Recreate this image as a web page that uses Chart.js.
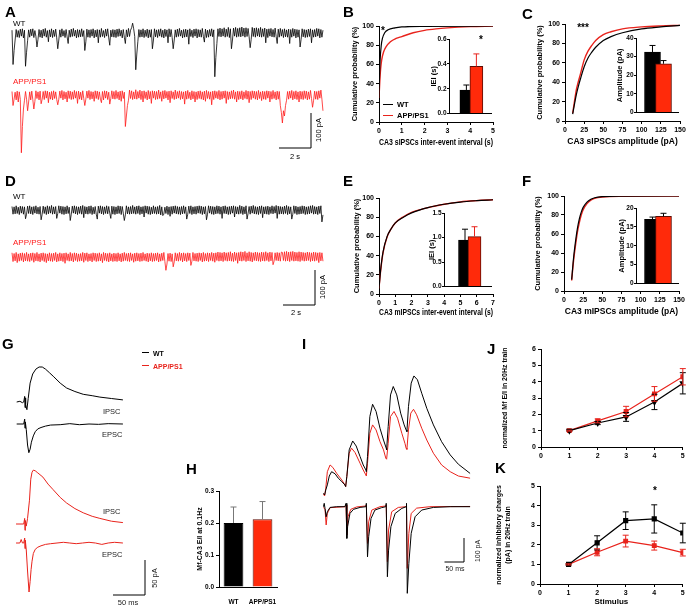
<!DOCTYPE html>
<html>
<head>
<meta charset="utf-8">
<script src="https://cdn.jsdelivr.net/npm/chart.js@4.4.1/dist/chart.umd.min.js"></script>
<style>
body { margin: 0; background: #fff; }
#fig { position: relative; width: 688px; height: 607px; overflow: hidden; background: #fff; font-family: 'Liberation Sans', Arial, sans-serif; }
#fig canvas { position: absolute; }
.t { position: absolute; white-space: nowrap; line-height: 1; }
.ln { position: absolute; height: 0; }
</style>
</head>
<body>
<div id="fig"></div>
<script>
// ---------- data ----------
const groups = ["WT", "APP/PS1"];

// A / D spontaneous and miniature recordings (pA from baseline, one sample every SAMPLE_DT s)
const SAMPLE_DT = 0.065;
const wtA = [
8, -90, -50, -20, 10, -12, 7, -13, 11, -9, 12, -14, 8, -95, -55, -22, 9, -12, 11, -8,
12, -13, 7, -10, -40, -18, 10, -12, 8, -14, 11, -9, 13, -12, 7, -25, 9, -11, 12, -13,
8, -10, 11, -14, -45, -20, 9, -12, 12, -9, 7, -13, 10, -11, -30, 8, -12, 11, -10, 13,
-9, 8, -14, 10, -12, 9, -11, 12, -10, 7, -50, -25, 11, -12, 9, -13, 10, -9, 12, -14,
8, -11, 10, -28, 9, -12, 13, -10, 7, -13, 11, -9, 12, -14, -35, 8, -11, 10, -12, 9,
-13, 11, -10, 12, -9, 8, -14, 10, -12, -30, 9, -11, 13, -10, 8, 15, 28, 12, -10, -105,
-60, -25, 10, -12, 9, -11, 12, -13, 8, -10, 11, -14, 9, -12, 10, -45, -20, 12, -11, 9,
-13, 10, -9, 12, -12, 8, -14, 11, -10, 9, -28, 12, -11, 10, -13, -45, -20, 9, -12, 11,
-10, 13, -9, 8, -14, 10, -12, 11, -11, 9, -32, 12, -10, 8, -13, 11, -9, 12, -14, 10,
-11, 9, -12, 13, -10, -26, 11, -13, 8, -12, 10, -9, 12, -11, 9, -125, -70, -30, 12, -10,
14, -11, 12, -9, 15, -12, 11, -10, 16, -13, 12, -45, -20, 14, -9, 16, -12, 13, -10, 15,
-11, 17, -9, 14, -12, 15, -10, 13, -11, -42, -18, 16, -10, 14, -12, 15, -9, 13, -11, 16,
-12, 12, -10, 14, -28, 11, -13, 12, -9, 13, -11, 10, -12, 14, -10, -30, 11, -12, 13, -9,
10, -13, 12, -11, 9, -12, 11, -30, 10, -12, 13, -9, 11, -14, 10, -12, 9, -40, -18, 12,
-11, 10, -13, 9, -12, 11, -10, 12, -28, 9, -12, 10, -11, 13, -9, 12, -14, 10, -12, 8];
const appA = [
10, -30, -12, 8, -14, 11, -20, 9, -13, -165, -90, -40, -15, 10, -12, -45, -20, 9, -14, 11,
-13, -40, -18, 12, -10, 9, -14, 11, -25, -12, 10, -13, 12, -9, 11, -22, 8, -12, 10, -14,
12, -10, 9, -13, -28, -12, 11, -9, 13, -14, 10, -11, 8, -20, 12, -10, 11, -13, 9, -12,
13, -9, 10, -24, 11, -12, 8, -14, 12, -10, -30, -12, 11, -9, 13, -13, 10, -11, 9, -18,
12, -10, 11, -13, 9, -12, -22, 10, -14, 12, -9, 11, -13, 8, -26, -10, 12, -11, 10, -12,
13, -10, 9, -14, 11, -18, 12, -10, 8, -90, -60, -30, -15, 14, -10, 12, -13, 9, -11, 15,
-12, 10, -9, 14, -13, 11, -20, 12, -10, 9, -14, 13, -11, 10, -24, 12, -9, 11, -13, 10,
-12, 14, -10, 9, -18, 12, -11, 13, -9, 10, -14, 11, -22, 12, -10, 9, -13, 14, -11, 10,
-9, 12, -13, 10, -11, 9, -26, 11, -12, 13, -10, 8, -14, 12, -11, 10, -20, 9, -13, 11,
-10, 12, -12, 9, -14, 11, -18, 13, -10, 10, -12, 9, -28, 11, -13, 12, -9, 10, -11, 13,
-14, 10, -12, 11, -9, 12, -24, 10, -13, 9, -11, 12, -10, 14, -12, 9, -20, 11, -13, 10,
-11, 12, -14, 9, -10, 13, -12, 11, -22, 10, -13, 12, -9, 11, -12, 10, -14, 13, -10, 9,
-16, 11, -12, 10, -13, 12, -9, 11, -20, 10, -12, 13, -10, 9, -14, 11, -12, 10, -30, -50,
-80, -45, -60, -30, -15, 10, -12, 11, -9, 13, -14, 10, -11, 12, -13, 9, -20, 11, -12, 10,
-13, 12, -10, 11, -14, 9, -12, 13, -10, -35, -15, 11, -12, 10, -13, 12, -9, 14, -12, -45];
const wtD = [
10, -12, 9, -11, 12, -10, 8, -13, 11, -9, 10, -12, 9, -25, -12, 11, -10, 12, -11, 9,
-13, 10, -9, 12, -11, 8, -12, 10, -28, -12, 11, -10, 9, -13, 12, -11, 10, -9, 13, -12,
9, -11, 10, -24, -10, 12, -9, 11, -12, 10, -13, 9, -11, 12, -10, 8, -30, -12, 11, -9,
12, -11, 10, -13, 9, -10, 11, -12, 13, -22, 10, -11, 9, -12, 11, -10, 12, -13, 8, -11,
10, -12, -26, 11, -9, 12, -11, 10, -13, 9, -10, 12, -11, 10, -9, -24, 11, -12, 10, -13,
9, -11, 12, -10, 11, -13, 10, -9, -30, -14, 12, -11, 9, -12, 10, -11, 13, -10, 9, -12,
11, -10, 12, -13, 9, -11, 10, -20, 12, -9, 11, -12, 10, -13, 8, -11, 12, -10, 9, -12,
10, -11, 13, -14, 9, -16, -12, 8, -10, 11, -13, 9, -18, 10, -12, 11, -9, 12, -11, 10,
-12, 9, -13, 10, -11, 12, -10, 9, -26, -12, 11, -10, 12, -13, 9, -11, 10, -12, 11, -9,
12, -10, 11, -13, 9, -11, 10, -28, -12, 12, -9, 11, -12, 10, -13, 9, -11, 12, -10, 11,
-12, 9, -24, 11, -10, 12, -11, 9, -13, 10, -12, 11, -9, 12, -20, 10, -11, 9, -12, 13,
-10, 11, -13, 9, -11, 12, -26, -10, 10, -12, 11, -9, 13, -11, 10, -12, 9, -13, 11, -10,
12, -22, 9, -11, 10, -12, 11, -13, 9, -10, 12, -11, 10, -9, 13, -24, 11, -12, 10, -11,
9, -12, 11, -10, 13, -13, 10, -11, 9, -26, -12, 12, -10, 11, -13, 9, -12, 10, -11, 12,
-10, 11, -13, 9, -12, 10, -11, 12, -9, 13, -12, 10, -11, 9, -13, 11, -10, 12, -34, -14];
const appD = [
12, -13, 10, -11, 13, -16, 9, -12, 11, -10, 12, -14, 10, -11, 13, -12, 9, -13, 11, -10,
12, -15, 10, -11, 13, -12, 9, -14, 11, -10, 12, -13, 10, -16, 9, -11, 12, -12, 10, -13,
11, -10, 13, -14, 9, -12, 12, -11, 10, -13, 11, -18, 12, -10, 9, -12, 13, -11, 10, -14,
12, -10, 11, -13, 9, -12, 10, -11, 13, -15, 11, -10, 12, -13, 9, -11, 10, -14, 12, -10,
11, -13, 10, -12, 12, -11, 9, -16, 13, -10, 11, -12, 10, -14, 12, -11, 9, -13, 11, -12,
10, -13, 12, -11, 9, -14, 11, -12, 13, -10, 10, -12, 11, -13, 12, -10, 9, -15, 11, -12,
12, -11, 10, -13, 11, -12, 13, -10, 9, -12, 11, -14, 10, -11, 12, -13, 10, -12, 11, -10,
12, -14, 9, -12, 11, -10, 13, -13, -38, -20, 10, -12, 11, -13, 9, -28, -14, 12, -11, 10,
-12, 13, -10, 11, -14, 12, -11, 10, -13, 12, -10, 11, -24, -12, 13, -11, 10, -12, 11, -13,
12, -10, 11, -14, 13, -12, 10, -11, 12, -13, 11, -10, 13, -12, 11, -15, 12, -10, 14, -12,
13, -11, 12, -13, 14, -10, 12, -12, 13, -11, 15, -12, 11, -13, 14, -10, 12, -18, 13, -11,
15, -12, 14, -10, 16, -13, 12, -11, 15, -12, 13, -14, 12, -10, 14, -11, 13, -12, 12, -13,
14, -11, 13, -12, 15, -10, 12, -13, 14, -11, 13, -22, -12, 12, -10, 13, -11, 12, -12, 14,
13, -10, 15, -12, 16, -11, 14, -13, 15, -10, 16, -12, 14, -11, 13, -12, 15, -13, 14, -10,
13, -12, 12, -11, 14, -10, 13, -13, 12, -11, 14, -12, 13, -10, 12, -16, 13, -11, 12, -12];
const scaleAD = [2, 100];   // s, pA

// B / C / E / F cumulative distributions
const bWtX = [0, 0.02, 0.05, 0.1, 0.15, 0.25, 0.4, 0.7, 1, 2, 5];
const bWtY = [25, 45, 65, 80, 87, 93, 96, 98, 99, 99.7, 100];
const bAppX = [0, 0.03, 0.07, 0.12, 0.2, 0.3, 0.5, 0.75, 1, 1.5, 2, 2.5, 3, 4, 5];
const bAppY = [25, 40, 55, 65, 73, 78, 83.5, 87, 89, 93, 95.5, 97, 98, 99.3, 100];
const cWtX = [10, 12.5, 15, 17.5, 20, 25, 30, 35, 40, 50, 60, 75, 100, 125, 150];
const cWtY = [7, 18, 28, 36, 43, 56, 65, 71, 76, 83, 87, 91, 95, 97, 98.6];
const cAppX = [10, 12.5, 15, 17.5, 20, 25, 30, 35, 40, 50, 60, 75, 100, 125, 150];
const cAppY = [8, 21, 33, 41, 48, 63, 72, 78, 83, 89, 92, 95, 97, 98, 98.6];
const eWtX = [0, 0.1, 0.25, 0.5, 0.75, 1, 1.5, 2, 3, 4, 5, 6, 7];
const eWtY = [6, 25, 44, 60, 68, 74, 80, 84.5, 90, 93.5, 95.8, 97.2, 98.2];
const eAppX = [0, 0.1, 0.25, 0.5, 0.75, 1, 1.5, 2, 3, 4, 5, 6, 7];
const eAppY = [6, 24, 43, 59.5, 68, 74, 80.5, 85, 90, 93.5, 96, 97.3, 98.2];
const fWtX = [10, 12.5, 15, 17.5, 20, 22.5, 25, 30, 35, 40, 50, 75, 150];
const fWtY = [12, 35, 52, 66, 76, 83, 88, 93.5, 96.5, 98.2, 99.4, 99.9, 100];
const fAppX = [10, 12.5, 15, 17.5, 20, 22.5, 25, 30, 35, 40, 50, 75, 150];
const fAppY = [11, 32, 48, 62, 72, 80, 85.5, 92, 95.5, 97.5, 99, 99.8, 100];

// inset means and SEM
const bIei = [0.19, 0.38], bIeiSem = [0.04, 0.10];
const cAmp = [32.5, 26.2], cAmpSem = [3.5, 1.7];
const eIei = [0.95, 1.02], eIeiSem = [0.22, 0.20];
const fAmp = [17.0, 17.8], fAmpSem = [0.6, 0.8];

// G evoked IPSC / EPSC (ms from stimulus, pA from baseline)
const gIpscWtT = [-13, -8, -4, -2, -0.5, 0, 0.5, 1.5, 3, 5, 8, 12, 17, 22, 27, 32, 38, 45, 55, 65, 78, 91, 105, 117, 135, 153];
const gIpscWtV = [0, 1, -1, 0, 8, -8, 6, -4, -11, 5, 27, 40, 47, 50, 50, 47, 42, 36, 27, 20, 15, 11, 9, 7, 5, 3];
const gEpscWtT = [-13, -2, -0.5, 0, 0.5, 2, 4, 6, 8, 10, 13, 16, 20, 25, 32, 40, 55, 70, 85, 100, 115, 130, 153];
const gEpscWtV = [0, 0, 7, -6, 3, -8, -30, -41, -36, -26, -17, -11, -7, -5, -3, -1.5, -1, 0.5, -1, 0, -0.5, 0.5, 0];
const gIpscAppT = [-14, -2, -0.5, 0, 0.5, 2, 4, 7, 9, 11, 13, 16, 20, 28, 36, 44, 55, 65, 78, 91, 105, 117, 135, 153];
const gIpscAppV = [0, 0, 8, -9, 5, -3, 8, 34, 64, 74, 77, 76, 73, 67, 57, 49, 38, 30, 22, 16, 11, 8, 4, 2];
const gEpscAppT = [-14, -8, -6, -4, -2, -0.5, 0, 0.5, 2, 4, 6.3, 8, 9.5, 11, 13, 16, 20, 25, 32, 40, 50, 60, 70, 80, 90, 100, 110, 120, 130, 140, 153];
const gEpscAppV = [0, 0, 5, 0, 0, 7, -8, 4, -10, -40, -70, -55, -38, -26, -15, -9, -6, -4, -2, -1, 0, 1, 0, -1, 0, 1, 0, -2, 0, 1, 0];
const scaleG = [50, 50];    // ms, pA

// H
const hEI = [0.20, 0.212], hEISem = [0.05, 0.055];

// I 20 Hz trains (ms, pA)
const iIpscWtT = [-4, -1, 2, 6, 11, 17, 26, 34, 43, 51, 53, 56, 62, 71, 80, 90, 98, 105, 106, 109, 115, 122, 131, 141, 150, 157, 158, 162, 168, 175, 184, 194, 203, 208, 210, 214, 221, 228, 237, 248, 261, 278, 299, 321, 342, 372];
const iIpscWtV = [0, -7, 14, 35, 72, 90, 81, 63, 49, 35, 28, 70, 181, 218, 197, 153, 118, 97, 90, 153, 320, 371, 341, 271, 222, 188, 181, 278, 410, 445, 410, 334, 285, 264, 257, 361, 459, 489, 473, 417, 354, 285, 215, 160, 121, 83];
const iIpscAppT = [-4, -1, 2, 6, 13, 20, 30, 43, 51, 53, 56, 62, 68, 77, 90, 98, 105, 106, 109, 115, 122, 131, 141, 150, 156, 158, 162, 168, 177, 186, 197, 205, 208, 210, 214, 220, 227, 235, 248, 261, 278, 299, 321, 342, 372];
const iIpscAppV = [-3, -11, 21, 90, 118, 108, 83, 56, 35, 28, 70, 167, 188, 170, 125, 97, 76, 72, 125, 250, 285, 264, 215, 181, 146, 142, 208, 320, 341, 313, 250, 208, 188, 183, 264, 334, 350, 327, 271, 222, 167, 118, 90, 72, 63];
const iEpscWtT = [-4, -2, 0, 3, 6, 13, 30, 51, 54, 56, 58, 64, 73, 90, 105, 106, 109, 112, 118, 128, 145, 156, 157, 160, 163, 169, 180, 197, 208, 209, 211, 215, 221, 231, 248, 278, 321, 372];
const iEpscWtV = [0, 14, -7, -42, -21, -3, 0, 0, 14, -132, -83, -28, -11, -3, 0, 14, -209, -125, -49, -14, -4, 0, 14, -292, -181, -83, -28, -7, 0, 14, -361, -236, -111, -42, -14, -3, 0, 0];
const iEpscAppT = [-4, 0, 3, 6, 13, 51, 54, 56, 59, 66, 81, 105, 106, 109, 112, 120, 141, 156, 157, 160, 163, 171, 188, 208, 209, 211, 215, 221, 235, 269, 372];
const iEpscAppV = [-3, -11, -76, -28, -4, 0, 7, -118, -42, -11, -1, 3, 7, -153, -63, -14, 0, 3, 7, -229, -97, -21, -3, 0, 7, -257, -111, -28, -6, 0, 1];
const scaleI = [50, 100];   // ms, pA

// J / K
const stimulus = [1, 2, 3, 4, 5];
const jWt = [1.0, 1.47, 1.84, 2.76, 3.9], jWtSem = [0.03, 0.1, 0.27, 0.47, 0.65];
const jApp = [1.0, 1.6, 2.17, 3.25, 4.3], jAppSem = [0.03, 0.12, 0.32, 0.45, 0.5];
const kWt = [1.0, 2.1, 3.23, 3.32, 2.6], kWtSem = [0.03, 0.36, 0.45, 0.72, 0.5];
const kApp = [1.0, 1.62, 2.19, 1.96, 1.6], kAppSem = [0.03, 0.18, 0.3, 0.23, 0.17];

// ---------- drawing ----------
const FONT = "'Liberation Sans', Arial, sans-serif";
const RED = "#e8231c";
const RED_TRACE = "#ff1a1a";
const RED_BAR = "#ff2a0a";
const fig = document.getElementById("fig");

Chart.defaults.font.family = FONT;
Chart.defaults.color = "#000";
Chart.defaults.plugins.legend.display = false;
Chart.defaults.plugins.tooltip.enabled = false;

const errorBarPlugin = {
  id: "errorBarPlugin",
  afterDatasetsDraw(chart) {
    const ctx = chart.ctx;
    const yScale = chart.scales.y;
    chart.data.datasets.forEach(function(ds, di) {
      const eb = ds.errorBars;
      if (!eb) return;
      const meta = chart.getDatasetMeta(di);
      ctx.save();
      ctx.lineWidth = 1;
      meta.data.forEach(function(el, i) {
        const raw = ds.data[i];
        const v = typeof raw === "object" ? raw.y : raw;
        const hi = yScale.getPixelForValue(v + eb.sem[i]);
        const lo = eb.both ? yScale.getPixelForValue(v - eb.sem[i]) : el.y;
        ctx.strokeStyle = Array.isArray(eb.color) ? eb.color[i] : eb.color;
        ctx.beginPath();
        ctx.moveTo(el.x, lo); ctx.lineTo(el.x, hi);
        ctx.moveTo(el.x - eb.cap, hi); ctx.lineTo(el.x + eb.cap, hi);
        if (eb.both) { ctx.moveTo(el.x - eb.cap, lo); ctx.lineTo(el.x + eb.cap, lo); }
        ctx.stroke();
      });
      ctx.restore();
    });
  }
};
Chart.register(errorBarPlugin);

function addCanvas(left, top, w, h) {
  const c = document.createElement("canvas");
  c.width = w; c.height = h;
  c.style.left = left + "px"; c.style.top = top + "px";
  c.style.width = w + "px"; c.style.height = h + "px";
  fig.appendChild(c);
  return c;
}

function addText(str, x, y, o) {
  o = o || {};
  const d = document.createElement("div");
  d.className = "t";
  d.textContent = str;
  d.style.left = x + "px";
  d.style.top = y + "px";
  d.style.fontSize = (o.size || 8) + "px";
  d.style.fontWeight = o.bold ? "bold" : "normal";
  d.style.color = o.color || "#000";
  let tr = o.align === "left" ? "translate(0,-50%)" : "translate(-50%,-50%)";
  if (o.rot) tr += " rotate(" + o.rot + "deg)";
  d.style.transform = tr;
  fig.appendChild(d);
}

function addLine(x1, x2, y, color) {
  const d = document.createElement("div");
  d.className = "ln";
  d.style.left = x1 + "px";
  d.style.width = (x2 - x1) + "px";
  d.style.top = y + "px";
  d.style.borderTop = "1px solid " + color;
  fig.appendChild(d);
}

function letter(ch, x, y) {
  addText(ch, x, y, { size: 15, bold: true, align: "left" });
}

function points(xs, ys, off) {
  return xs.map(function(x, i) { return { x: x, y: ys[i] + (off || 0) }; });
}

function sampled(ys, off) {
  return ys.map(function(v, i) { return { x: i * SAMPLE_DT, y: v + off }; });
}

function trace(data, color, w) {
  return { data: data, borderColor: color, borderWidth: w || 0.8, pointRadius: 0, fill: false, tension: 0 };
}

function scaleBar(xEnd, yBottom, len) {
  return trace([{ x: xEnd - len[0], y: yBottom }, { x: xEnd, y: yBottom }, { x: xEnd, y: yBottom + len[1] }], "#000", 1);
}

function traceChart(canvas, xr, yr, datasets) {
  return new Chart(canvas, {
    type: "line",
    data: { datasets: datasets },
    options: {
      responsive: false, animation: false, devicePixelRatio: 1, events: [],
      layout: { padding: 0 },
      scales: {
        x: { type: "linear", display: false, min: xr[0], max: xr[1] },
        y: { type: "linear", display: false, min: yr[0], max: yr[1] }
      }
    }
  });
}

function axis(o) {
  const a = {
    type: "linear", min: o.min, max: o.max,
    ticks: { stepSize: o.step, autoSkip: false, maxRotation: 0, color: "#000", padding: o.pad === undefined ? 2 : o.pad,
             font: { family: FONT, size: o.fs || 7, weight: "bold" } },
    grid: { drawOnChartArea: false, drawTicks: true, tickLength: o.tick === undefined ? 3 : o.tick, color: "#000", lineWidth: 1 },
    border: { color: "#000", width: 1 },
    title: { display: !!o.title, text: o.title || "", color: "#000", padding: 0,
             font: { family: FONT, size: o.tfs || 8, weight: "bold" } },
    afterFit: function(s) { if (s.isHorizontal()) s.height = o.size; else s.width = o.size; }
  };
  if (o.cb) a.ticks.callback = o.cb;
  return a;
}

function cumChart(box, xr, xStep, wt, app, xTitle) {
  const c = addCanvas(box.left, box.top, box.w, box.h);
  return new Chart(c, {
    type: "line",
    data: { datasets: [
      { data: points(wt[0], wt[1]), borderColor: "#000", borderWidth: 1.2, pointRadius: 0, cubicInterpolationMode: "monotone" },
      { data: points(app[0], app[1]), borderColor: RED, borderWidth: 1.4, pointRadius: 0, cubicInterpolationMode: "monotone" }
    ]},
    options: {
      responsive: false, animation: false, devicePixelRatio: 1, events: [],
      layout: { padding: { left: 0, top: box.pt, right: box.pr, bottom: 0 } },
      scales: {
        x: axis({ min: xr[0], max: xr[1], step: xStep, size: box.xh, title: xTitle, tfs: 8.5 }),
        y: axis({ min: 0, max: 100, step: 20, size: box.yw, title: "Cumulative probability (%)", tfs: 7.5 })
      }
    }
  });
}

function insetChart(box, vals, sems, yMax, yStep, digits, title, errColor) {
  const c = addCanvas(box.left, box.top, box.w, box.h);
  return new Chart(c, {
    type: "bar",
    data: { datasets: [{
      data: vals.map(function(v, i) { return { x: i + 1, y: v }; }),
      backgroundColor: ["#000", RED_BAR], borderColor: ["#000", "#5c0c04"], borderWidth: 1,
      barThickness: box.bw,
      errorBars: { sem: sems, color: errColor, cap: 3, both: false }
    }]},
    options: {
      responsive: false, animation: false, devicePixelRatio: 1, events: [],
      layout: { padding: { left: 0, top: box.pt, right: box.pr, bottom: box.pb } },
      scales: {
        x: { type: "linear", min: box.xmin, max: box.xmax, ticks: { display: false }, grid: { display: false },
             border: { color: "#000", width: 1 }, afterFit: function(s) { s.height = 0; } },
        y: axis({ min: 0, max: yMax, step: yStep, size: box.yw, fs: 6.5, tick: 2, pad: 0.5, title: title, tfs: 7.5,
                  cb: function(v) { return v.toFixed(digits); } })
      }
    }
  });
}

function trainChart(box, yMax, wt, app, wtStyle, yTitle, xTitle) {
  const c = addCanvas(box.left, box.top, box.w, box.h);
  return new Chart(c, {
    type: "line",
    data: { datasets: [
      { data: points(stimulus, wt[0]), borderColor: "#000", backgroundColor: "#000", borderWidth: 1.2,
        pointStyle: wtStyle, pointRotation: wtStyle === "triangle" ? 180 : 0, pointRadius: 2.8, tension: 0,
        errorBars: { sem: wt[1], color: "#000", cap: 3, both: true } },
      { data: points(stimulus, app[0]), borderColor: RED, backgroundColor: RED, borderWidth: 1.2,
        pointStyle: "rect", pointRadius: 2.6, tension: 0,
        errorBars: { sem: app[1], color: RED, cap: 3, both: true } }
    ]},
    options: {
      responsive: false, animation: false, devicePixelRatio: 1, events: [],
      layout: { padding: { left: 0, top: box.pt, right: box.pr, bottom: 0 } },
      scales: {
        x: axis({ min: 0, max: 5, step: 1, size: box.xh, title: xTitle, tfs: 8 }),
        y: axis({ min: 0, max: yMax, step: 1, size: box.yw, title: yTitle, tfs: 7 })
      }
    }
  });
}

// ----- A -----
const aX = function(px) { return (px - 12) / 16; };
const aY = function(py) { return -py / 0.35; };
traceChart(addCanvas(0, 0, 335, 170), [aX(0), aX(335)], [aY(170), aY(0)], [
  trace(sampled(wtA, aY(33)), "#000", 0.8),
  trace(sampled(appA, aY(95)), RED_TRACE, 0.8),
  scaleBar(aX(311), aY(148), scaleAD)
]);
addText("WT", 13, 24, { size: 8, align: "left" });
addText("APP/PS1", 13, 81.5, { size: 8, align: "left", color: RED_TRACE });
addText("100 pA", 319, 130, { size: 7.5, rot: -90 });
addText("2 s", 295, 157, { size: 7.5 });

// ----- D -----
const dY = function(py) { return -(py - 175) / 0.35; };
traceChart(addCanvas(0, 175, 335, 150), [aX(0), aX(335)], [dY(325), dY(175)], [
  trace(sampled(wtD, dY(210)), "#000", 0.8),
  trace(sampled(appD, dY(257)), RED_TRACE, 0.8),
  scaleBar(aX(315), dY(305), scaleAD)
]);
addText("WT", 13, 197, { size: 8, align: "left" });
addText("APP/PS1", 13, 243, { size: 8, align: "left", color: RED_TRACE });
addText("100 pA", 323, 287, { size: 7.5, rot: -90 });
addText("2 s", 296, 313, { size: 7.5 });

// ----- B, C, E, F -----
cumChart({ left: 350, top: 12, w: 155, h: 136, yw: 29, xh: 26, pt: 14, pr: 12 }, [0, 5], 1,
  [bWtX, bWtY], [bAppX, bAppY], "CA3 sIPSCs inter-event interval (s)");
insetChart({ left: 429, top: 33, w: 67, h: 85, yw: 20, pt: 6, pr: 4.5, pb: 3, xmin: 0.325, xmax: 2.45, bw: 13 },
  bIei, bIeiSem, 0.6, 0.2, 1, "IEI (s)", ["#000", RED]);
cumChart({ left: 535, top: 10, w: 153, h: 137, yw: 30, xh: 26, pt: 14, pr: 8 }, [0, 150], 25,
  [cWtX, cWtY], [cAppX, cAppY], "CA3 sIPSCs amplitude (pA)");
insetChart({ left: 615, top: 32, w: 72, h: 85, yw: 21, pt: 6, pr: 9, pb: 3, xmin: 0.4545, xmax: 2.364, bw: 16 },
  cAmp, cAmpSem, 40, 10, 0, "Amplitude (pA)", ["#000", "#000"]);
cumChart({ left: 352, top: 186, w: 153, h: 132, yw: 27, xh: 24, pt: 12, pr: 12 }, [0, 7], 1,
  [eWtX, eWtY], [eAppX, eAppY], "CA3 mIPSCs inter-event interval (s)");
insetChart({ left: 427, top: 207, w: 68, h: 84, yw: 17, pt: 6, pr: 4, pb: 3, xmin: 0.026, xmax: 2.5, bw: 13 },
  eIei, eIeiSem, 1.5, 0.5, 1, "IEI (s)", ["#000", RED]);
cumChart({ left: 533, top: 184, w: 155, h: 133, yw: 31, xh: 26, pt: 12, pr: 9 }, [0, 150], 25,
  [fWtX, fWtY], [fAppX, fAppY], "CA3 mIPSCs amplitude (pA)");
insetChart({ left: 617, top: 202, w: 70, h: 86, yw: 19, pt: 6, pr: 9, pb: 3, xmin: 0.4545, xmax: 2.364, bw: 16 },
  fAmp, fAmpSem, 20, 5, 0, "Amplitude (pA)", ["#000", "#000"]);

addLine(383, 393, 104, "#000");
addLine(383, 393, 115, RED);
addText("WT", 397, 104.5, { size: 7.5, bold: true, align: "left" });
addText("APP/PS1", 397, 115.5, { size: 7.5, bold: true, align: "left" });
addText("*", 383, 31, { size: 10, bold: true });
addText("*", 481, 40, { size: 10, bold: true });
addText("***", 583, 28, { size: 10, bold: true });

// ----- G -----
const gX = function(px) { return (px - 25) / 0.64; };
const gY = function(py) { return -(py - 360) / 0.7; };
traceChart(addCanvas(0, 360, 180, 247), [gX(0), gX(180)], [gY(607), gY(360)], [
  trace(points(gIpscWtT, gIpscWtV, gY(402)), "#000", 1),
  trace(points(gEpscWtT, gEpscWtV, gY(424)), "#000", 1),
  trace(points(gIpscAppT, gIpscAppV, gY(524)), RED, 1),
  trace(points(gEpscAppT, gEpscAppV, gY(543)), RED, 1),
  scaleBar(gX(145), gY(595), scaleG)
]);
addText("IPSC", 103, 412, { size: 7.5, align: "left", color: "#222" });
addText("EPSC", 102, 435, { size: 7.5, align: "left", color: "#222" });
addText("IPSC", 103, 512, { size: 7.5, align: "left", color: "#222" });
addText("EPSC", 102, 555, { size: 7.5, align: "left", color: "#222" });
addText("50 pA", 155, 578, { size: 7.5, rot: -90, color: "#222" });
addText("50 ms", 128, 603, { size: 7.5, color: "#222" });
addLine(142, 149, 352, "#000");
addLine(142, 149, 365, RED);
addText("WT", 153, 352.5, { size: 7, bold: true, align: "left" });
addText("APP/PS1", 153, 365.5, { size: 7, bold: true, align: "left", color: RED });

// ----- H -----
new Chart(addCanvas(196, 483, 94, 124), {
  type: "bar",
  data: { labels: groups, datasets: [{
    data: hEI, backgroundColor: ["#000", RED_BAR], borderColor: ["#000", "#5c0c04"], borderWidth: 1,
    barPercentage: 0.68, categoryPercentage: 1,
    errorBars: { sem: hEISem, color: ["#777", "#777"], cap: 3, both: false }
  }]},
  options: {
    responsive: false, animation: false, devicePixelRatio: 1, events: [],
    layout: { padding: { left: 0, top: 8, right: 13, bottom: 0 } },
    scales: {
      x: { type: "category", ticks: { color: "#000", padding: 3, autoSkip: false, maxRotation: 0, minRotation: 0,
                                      font: { family: FONT, size: 6.5, weight: "bold" } },
           grid: { display: false }, border: { color: "#000", width: 1 }, afterFit: function(s) { s.height = 20; } },
      y: axis({ min: 0, max: 0.3, step: 0.1, size: 23, fs: 6.5, tick: 3, pad: 2, title: "Mf-CA3 E/I at 0.1Hz", tfs: 7,
                cb: function(v) { return v.toFixed(1); } })
    }
  }
});

// ----- I -----
const iX = function(px) { return (px - 325) / 0.39; };
const iY = function(py) { return -(py - 360) / 0.24; };
traceChart(addCanvas(290, 360, 200, 247), [iX(290), iX(490)], [iY(607), iY(360)], [
  trace(points(iIpscWtT, iIpscWtV, iY(493.3)), "#000", 1),
  trace(points(iIpscAppT, iIpscAppV, iY(493.3)), RED, 1),
  trace(points(iEpscWtT, iEpscWtV, iY(506.7)), "#000", 1),
  trace(points(iEpscAppT, iEpscAppV, iY(506.7)), RED, 1),
  scaleBar(iX(464), iY(562), scaleI)
]);
addText("100 pA", 477, 551, { size: 7, rot: -90, color: "#222" });
addText("50 ms", 455, 568, { size: 7, color: "#222" });

// ----- J, K -----
trainChart({ left: 501, top: 340, w: 187, h: 120, yw: 40, xh: 13, pt: 9, pr: 3 }, 6,
  [jWt, jWtSem], [jApp, jAppSem], "triangle", "normalized Mf E/I in 20Hz train", "");
trainChart({ left: 495, top: 478, w: 193, h: 129, yw: 45, xh: 23, pt: 8, pr: 3 }, 5,
  [kWt, kWtSem], [kApp, kAppSem], "rect", ["normalized inhibitory charges", "(pA) in 20Hz train"], "Stimulus");
addText("*", 655, 491, { size: 10, bold: true });

// panel letters
letter("A", 5, 10.5);
letter("B", 343, 10.5);
letter("C", 522, 12.5);
letter("D", 5, 179.5);
letter("E", 343, 179.5);
letter("F", 522, 179.5);
letter("G", 2, 342.5);
letter("I", 302, 342.5);
letter("J", 487, 347.5);
letter("H", 186, 467.5);
letter("K", 495, 467);
</script>
</body>
</html>
